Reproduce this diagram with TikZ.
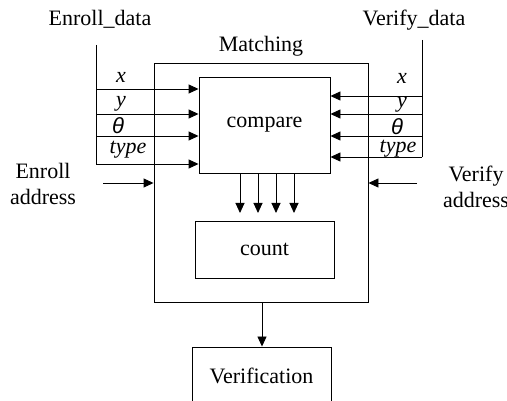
\documentclass[tikz,border=0pt]{standalone}
\usepackage{fontspec}
\setmainfont{Liberation Serif}
\newfontfamily\thetafont{Liberation Sans}
\usetikzlibrary{arrows.meta}

\tikzset{
	box/.style={draw, line width=0.9pt, inner sep=0pt},
	arr/.style={line width=0.9pt, -{Triangle[length=10pt,width=9pt]}},
	wire/.style={line width=0.9pt},
	sig/.style={inner sep=0pt}
}

\begin{document}
\begin{tikzpicture}[x=1pt,y=-1pt,font=\fontsize{22}{26}\selectfont]
		\useasboundingbox (0,0) rectangle (507,401);
		\begin{scope}
		\clip (0,0) rectangle (507,401);
		% Draw boxes; sizes follow the outer frame
		\node[box, minimum width=214pt, minimum height=239pt] (mat) at (261,182.5) {};
		\node[box, minimum width=131pt, minimum height=96pt] (cmp) at (264.5,125) {compare};
		\node[box, minimum width=139pt, minimum height=57pt] (cnt) at (264.5,249.5) {count};
		\node[box, minimum width=139pt, minimum height=57pt] (ver) at (261.5,375.5) {Verification};
		\end{scope}
		\node (mattitle) at (261,46) {Matching};
		\node (ename) at (100,19) {Enroll\_data};
		\node (vname) at (414,20) {Verify\_data};
		% Enroll side bus
		\coordinate (etop) at (96,45);
		\coordinate (ebot) at (96,164);
		\draw[wire] (etop) -- (ebot);
		\foreach \yy/\lx/\ly/\lab [count=\i] in {89/121/77/\textit{x},
			114/121/104/\textit{y},
			136/118/126/{\thetafont\itshape θ},
			164/128/150/\textit{type}}
		{\coordinate (e\i) at (96,\yy);
			\draw[arr] (e\i) -- (e\i -| cmp.west);
			\node[sig] (el\i) at (\lx,\ly) {\lab};}
		% Verify side bus
		\coordinate (vtop) at (422,40);
		\coordinate (vbot) at (422,157);
		\draw[wire] (vtop) -- (vbot);
		\foreach \yy/\lx/\ly/\lab [count=\i] in {96/402/78/\textit{x},
			114/402/105/\textit{y},
			136/397/127/{\thetafont\itshape θ},
			157/398/149/\textit{type}}
		{\coordinate (v\i) at (422,\yy);
			\draw[arr] (v\i) -- (v\i -| cmp.east);
			\node[sig] (vl\i) at (\lx,\ly) {\lab};}
		% compare to count
		\foreach \xx [count=\i] in {240,258,276,294}
		{\coordinate (d\i) at (\xx,213);
			\draw[arr] (cmp.south -| d\i) -- (d\i);}
		% address inputs
		\node[align=center] (eaddr) at (43,184) {Enroll\\address};
		\node[align=center] (vaddr) at (476,187) {Verify\\address};
		\coordinate (ea) at (103,183);
		\coordinate (va) at (417,183);
		\draw[arr] (ea) -- (ea -| mat.west);
		\draw[arr] (va) -- (va -| mat.east);
		% result
		\draw[arr] (mat.south -| 262,0) -- (ver.north -| 262,0);
	\end{tikzpicture}
\end{document}
